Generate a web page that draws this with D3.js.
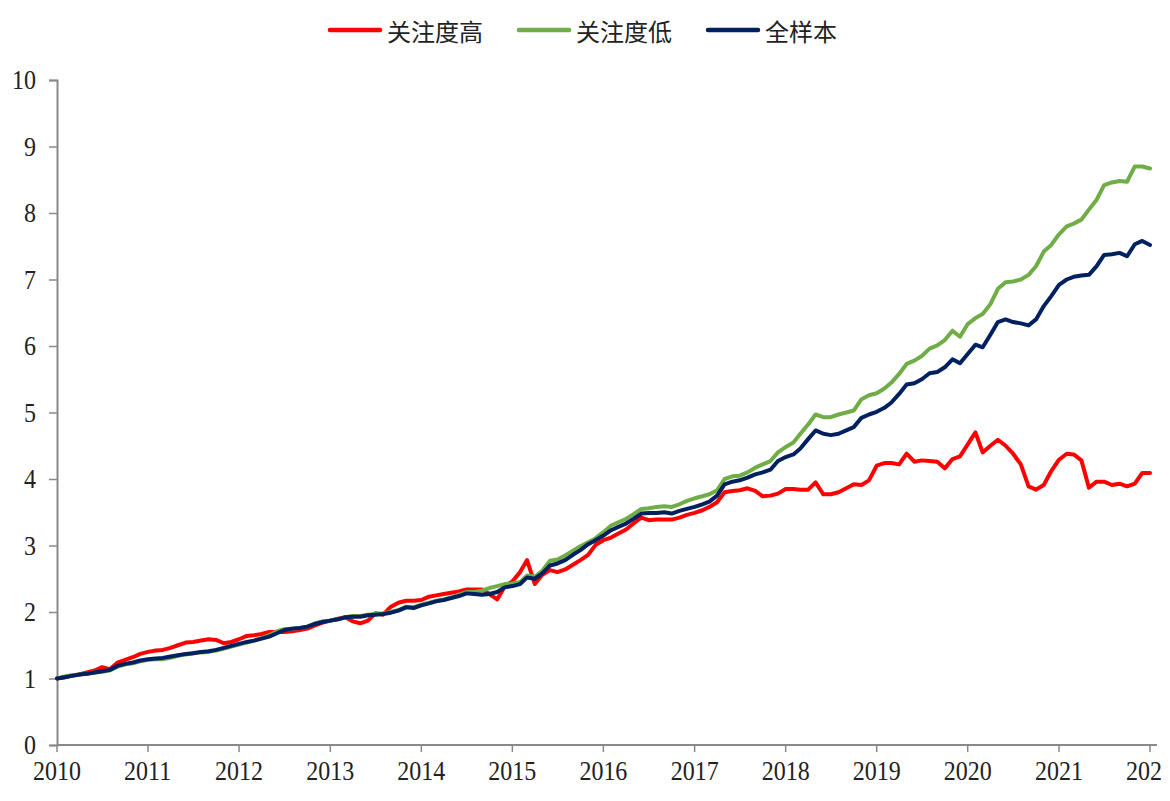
<!DOCTYPE html>
<html>
<head>
<meta charset="utf-8">
<script src="https://cdn.jsdelivr.net/npm/d3@7"></script>
<style>
  html, body { margin: 0; padding: 0; background: #fff; }
  svg { display: block; }
</style>
</head>
<body>
<svg id="chart" width="1170" height="801"></svg>
<script>
// ---- Data (monthly, Jan 2010 .. Jan 2022) ----
const startMonth = "2010-01";
const seriesNames = ["关注度高", "关注度低", "全样本"];
const seriesColors = ["#FF0000", "#70AD47", "#002060"];

const high = [1.00,1.02,1.04,1.06,1.09,1.12,1.17,1.14,1.24,1.28,1.32,1.37,
  1.40,1.42,1.43,1.46,1.50,1.54,1.55,1.57,1.59,1.58,1.53,1.55,
  1.59,1.64,1.65,1.67,1.70,1.70,1.70,1.71,1.73,1.75,1.80,1.84,
  1.87,1.90,1.92,1.86,1.83,1.87,1.98,1.96,2.08,2.14,2.17,2.17,
  2.18,2.23,2.25,2.27,2.29,2.31,2.34,2.34,2.34,2.27,2.19,2.38,
  2.46,2.60,2.78,2.42,2.56,2.63,2.60,2.64,2.71,2.78,2.86,3.01,
  3.08,3.12,3.18,3.24,3.33,3.42,3.38,3.39,3.39,3.39,3.42,3.46,
  3.49,3.53,3.58,3.65,3.80,3.82,3.83,3.86,3.82,3.74,3.75,3.78,
  3.85,3.85,3.84,3.84,3.95,3.77,3.77,3.80,3.86,3.92,3.91,3.98,
  4.20,4.24,4.24,4.22,4.38,4.26,4.28,4.27,4.26,4.16,4.30,4.34,
  4.52,4.70,4.40,4.50,4.59,4.50,4.38,4.22,3.89,3.84,3.91,4.12,
  4.29,4.38,4.37,4.28,3.87,3.96,3.96,3.91,3.93,3.89,3.93,4.09,
  4.09];

const low = [1.00,1.03,1.05,1.06,1.07,1.09,1.10,1.12,1.18,1.21,1.23,1.26,
  1.28,1.29,1.29,1.31,1.34,1.36,1.38,1.39,1.40,1.42,1.45,1.48,
  1.51,1.54,1.57,1.61,1.65,1.71,1.74,1.75,1.76,1.78,1.83,1.86,
  1.87,1.89,1.92,1.94,1.94,1.96,1.97,1.98,2.00,2.03,2.08,2.07,
  2.11,2.14,2.17,2.19,2.22,2.26,2.30,2.30,2.32,2.36,2.39,2.42,
  2.43,2.45,2.55,2.53,2.62,2.77,2.79,2.85,2.92,2.99,3.05,3.11,
  3.20,3.30,3.35,3.40,3.47,3.55,3.56,3.58,3.59,3.58,3.62,3.67,
  3.71,3.74,3.77,3.83,4.00,4.04,4.05,4.10,4.17,4.22,4.27,4.40,
  4.48,4.55,4.68,4.82,4.97,4.93,4.93,4.97,5.00,5.03,5.20,5.26,
  5.29,5.36,5.45,5.58,5.73,5.78,5.85,5.96,6.01,6.09,6.23,6.14,
  6.33,6.42,6.48,6.63,6.86,6.96,6.97,7.00,7.07,7.20,7.42,7.52,
  7.68,7.80,7.84,7.90,8.05,8.20,8.42,8.46,8.48,8.47,8.70,8.70,
  8.67];

const all = [1.00,1.02,1.04,1.06,1.07,1.09,1.11,1.13,1.19,1.22,1.24,1.27,
  1.29,1.30,1.31,1.33,1.35,1.37,1.38,1.40,1.41,1.43,1.46,1.49,
  1.52,1.55,1.57,1.60,1.63,1.68,1.73,1.75,1.76,1.78,1.82,1.85,
  1.87,1.89,1.92,1.93,1.93,1.95,1.96,1.97,1.99,2.02,2.07,2.06,
  2.10,2.13,2.16,2.18,2.21,2.24,2.28,2.27,2.26,2.27,2.30,2.37,
  2.39,2.42,2.52,2.50,2.58,2.70,2.73,2.78,2.86,2.93,3.02,3.08,
  3.15,3.23,3.28,3.33,3.40,3.48,3.49,3.49,3.50,3.48,3.52,3.55,
  3.58,3.62,3.66,3.75,3.92,3.96,3.98,4.02,4.07,4.10,4.14,4.27,
  4.33,4.37,4.46,4.60,4.73,4.68,4.66,4.68,4.73,4.78,4.92,4.97,
  5.01,5.07,5.15,5.28,5.42,5.44,5.50,5.59,5.61,5.68,5.80,5.74,
  5.88,6.02,5.98,6.17,6.36,6.40,6.36,6.34,6.31,6.40,6.60,6.75,
  6.92,7.00,7.04,7.06,7.07,7.20,7.37,7.38,7.40,7.35,7.53,7.58,
  7.52];

const yTicks = [0,1,2,3,4,5,6,7,8,9,10];
const xTickYears = [2010,2011,2012,2013,2014,2015,2016,2017,2018,2019,2020,2021,2022];
const xTickLabels = ["2010","2011","2012","2013","2014","2015","2016","2017","2018","2019","2020","2021","202"];

// ---- Layout ----
(function draw() {
const svg = d3.select("#chart");
const mLeft = 57, mRight = 1157, mTop = 80, mBottom = 745;
const parse = d3.timeParse("%Y-%m");
const t0 = parse(startMonth);
const dates = high.map((_, i) => d3.timeMonth.offset(t0, i));

const x = d3.scaleTime()
  .domain([new Date(2010, 0, 1), new Date(2022, 0, 1)])
  .range([mLeft, 1150]);
const y = d3.scaleLinear().domain([0, 10]).range([mBottom, mTop]);

const axisColor = "#898989";
const numFont = "'Liberation Serif', 'Times New Roman', serif";
const stretch = 1.15;

// y axis
const yAxis = svg.append("g").attr("transform", `translate(${mLeft},0)`)
  .call(d3.axisLeft(y).tickValues(yTicks).tickSize(8).tickPadding(13).tickFormat(d3.format("d")));
yAxis.select(".domain").attr("stroke", axisColor).attr("stroke-width", 2);
yAxis.selectAll(".tick line").attr("stroke", axisColor).attr("stroke-width", 1.5);
yAxis.selectAll(".tick text").attr("fill", "#222")
  .attr("transform", `scale(1,${stretch})`)
  .style("font-family", numFont).style("font-size", "24px");

// x axis
const xg = svg.append("g").attr("transform", `translate(0,${mBottom})`);
xg.append("line").attr("x1", mLeft).attr("x2", mRight).attr("y1", 0).attr("y2", 0)
  .attr("stroke", axisColor).attr("stroke-width", 2);
const xTicks = xg.selectAll("g.xt").data(xTickYears).enter().append("g")
  .attr("transform", d => `translate(${x(new Date(d, 0, 1))},0)`);
xTicks.append("line").attr("y1", 0).attr("y2", 7).attr("stroke", axisColor).attr("stroke-width", 1.5);
xTicks.append("text")
  .attr("x", -24).attr("y", 35 / stretch)
  .attr("transform", `scale(1,${stretch})`)
  .attr("text-anchor", "start")
  .attr("fill", "#222")
  .style("font-family", numFont).style("font-size", "24px")
  .text((d, i) => xTickLabels[i]);

// lines
const line = d3.line().x((d, i) => x(dates[i])).y(d => y(d));
const seriesData = [high, low, all];
seriesData.forEach((s, k) => {
  svg.append("path").datum(s)
    .attr("fill", "none")
    .attr("stroke", seriesColors[k])
    .attr("stroke-width", 4)
    .attr("stroke-linejoin", "round")
    .attr("stroke-linecap", "round")
    .attr("d", line);
});

// legend
const legendX = [330, 519, 708];
const lg = svg.append("g");
seriesNames.forEach((n, k) => {
  lg.append("line").attr("x1", legendX[k]).attr("x2", legendX[k] + 50)
    .attr("y1", 30).attr("y2", 30)
    .attr("stroke", seriesColors[k]).attr("stroke-width", 4.5).attr("stroke-linecap", "round");
  lg.append("text").attr("x", legendX[k] + 57).attr("y", 30)
    .attr("dominant-baseline", "central")
    .attr("fill", "#222")
    .style("font-family", "'Noto Sans CJK SC', sans-serif")
    .style("font-size", "24px")
    .text(n);
});
})();
</script>
</body>
</html>
